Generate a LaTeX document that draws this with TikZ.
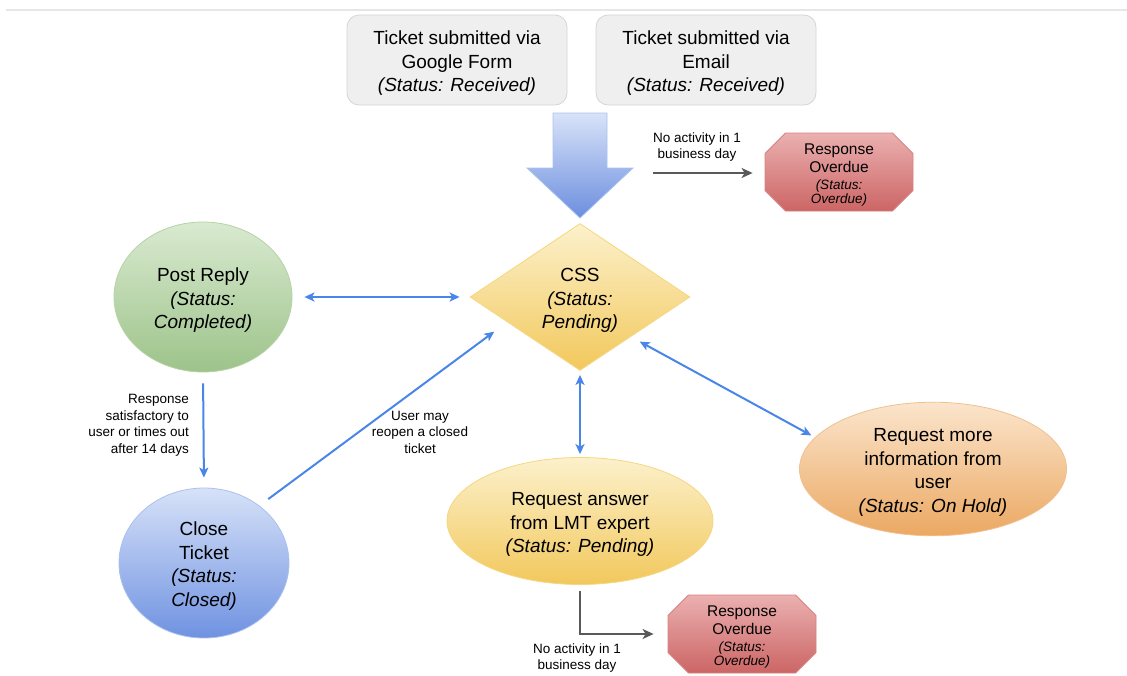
\documentclass[tikz,border=0pt]{standalone}
\usepackage{fontspec}
\setmainfont{Liberation Sans}
\usetikzlibrary{shapes.geometric,shapes.misc,arrows.meta}

\definecolor{boxfill}{HTML}{EFEFEF}
\definecolor{boxedge}{HTML}{D5D5D5}
\definecolor{arrowtop}{HTML}{D8E3F8}
\definecolor{arrowbot}{HTML}{6C8EDF}
\definecolor{arrowedge}{HTML}{A9C2F0}
\definecolor{redtop}{HTML}{EBB0B0}
\definecolor{redbot}{HTML}{CC6565}
\definecolor{rededge}{HTML}{D98080}
\definecolor{greentop}{HTML}{D9EAD0}
\definecolor{greenbot}{HTML}{9DC38A}
\definecolor{greenedge}{HTML}{B5D3A5}
\definecolor{yeltop}{HTML}{FCF1CC}
\definecolor{yelbot}{HTML}{F2C85C}
\definecolor{yeledge}{HTML}{F5D77F}
\definecolor{bluetop}{HTML}{D7E2F8}
\definecolor{bluebot}{HTML}{6F92E1}
\definecolor{blueedge}{HTML}{A9C1EE}
\definecolor{orgtop}{HTML}{FBE5CC}
\definecolor{orgbot}{HTML}{EBA862}
\definecolor{orgedge}{HTML}{F0C090}
\definecolor{connblue}{HTML}{4A86E8}
\definecolor{conngray}{HTML}{595959}
\definecolor{rulegray}{HTML}{E6E6E6}

% italic status lines; the strut lowers a text block a little inside its shape
\newcommand{\stline}[1]{{\itshape #1}}
\newcommand{\smallst}[1]{{\fontsize{13.5}{16}\selectfont\itshape #1}}
\newcommand{\lowerbig}{\rule{0pt}{20pt}}
\newcommand{\lowersmall}{\rule{0pt}{16.5pt}}

\begin{document}
\begin{tikzpicture}[x=1pt,y=-1pt,
  txt/.style={align=center, inner sep=0pt, text=black,
    font=\fontsize{19}{23.5}\selectfont},
  lbl/.style={align=center, inner sep=0pt, text=black,
    font=\fontsize{13.5}{16.5}\selectfont},
  srcbox/.style={txt, rectangle, rounded corners=12pt, fill=boxfill,
    draw=boxedge, line width=0.8pt, minimum width=220pt, minimum height=90pt},
  overdue/.style={chamfered rectangle, chamfered rectangle xsep=17pt,
    align=center, inner sep=0pt, text=black,
    font=\fontsize{15.5}{18.5}\selectfont,
    top color=redtop, bottom color=redbot, draw=rededge, line width=0.8pt,
    minimum width=148pt, minimum height=78pt},
  blob/.style={txt, ellipse, line width=0.8pt},
  bluelink/.style={draw=connblue, line width=2pt,
    -{Stealth[length=10pt,width=9pt,inset=2.5pt]}},
  bluetwo/.style={bluelink,
    {Stealth[length=10pt,width=9pt,inset=2.5pt]}-{Stealth[length=10pt,width=9pt,inset=2.5pt]}},
  graylink/.style={draw=conngray, line width=2.5pt,
    -{Stealth[length=11pt,width=10pt,inset=3pt]}},
]
\useasboundingbox (0,0) rectangle (1127,675);

% thin rule along the top
\draw[rulegray, line width=1.2pt] (6,10) -- (1127,10);

% ticket sources
\node[srcbox] (gform) at (457,60)
  {\lowerbig Ticket submitted via\\Google Form\\\stline{(Status: Received)}};
\node[srcbox] (email) at (706,60)
  {\lowerbig Ticket submitted via\\Email\\\stline{(Status: Received)}};

% wide intake arrow
\shadedraw[top color=arrowtop, bottom color=arrowbot, draw=arrowedge, line width=0.8pt]
  (553,113) -- (607,113) -- (607,168) -- (633,168) -- (580,218)
  -- (527,168) -- (553,168) -- cycle;

% states
\node[txt, diamond, minimum width=220pt, minimum height=144pt,
      top color=yeltop, bottom color=yelbot, draw=yeledge, line width=0.8pt]
  (css) at (580,297) {\lowerbig CSS\\\stline{(Status:}\\\stline{Pending)}};

\node[blob, minimum width=178pt, minimum height=150pt,
      top color=greentop, bottom color=greenbot, draw=greenedge]
  (post) at (203,297) {\lowerbig Post Reply\\\stline{(Status:}\\\stline{Completed)}};

\node[blob, minimum width=170pt, minimum height=150pt,
      top color=bluetop, bottom color=bluebot, draw=blueedge]
  (close) at (204,563) {\lowerbig Close\\Ticket\\\stline{(Status:}\\\stline{Closed)}};

\node[blob, minimum width=266pt, minimum height=127pt,
      top color=yeltop, bottom color=yelbot, draw=yeledge]
  (lmt) at (580,521) {\lowerbig Request answer\\from LMT expert\\\stline{(Status: Pending)}};

\node[blob, minimum width=267pt, minimum height=130pt,
      top color=orgtop, bottom color=orgbot, draw=orgedge]
  (info) at (933,469) {\lowerbig Request more\\information from\\user\\\stline{(Status: On Hold)}};

\node[overdue] (od1) at (839,172)
  {\lowersmall Response\\Overdue\\[-2pt]\smallst{(Status:}\\[-4.5pt]\smallst{Overdue)}};
\node[overdue] (od2) at (742,634)
  {\lowersmall Response\\Overdue\\[-2pt]\smallst{(Status:}\\[-4.5pt]\smallst{Overdue)}};

% connectors
\draw[bluetwo, shorten <=12pt, shorten >=10pt] (post.east) -- (css.west);
\draw[bluelink, shorten <=11pt, shorten >=10pt] (post.south) -- (close.north);
\draw[bluelink, shorten <=11pt, shorten >=16pt] (close.46) -- (css.199);
\draw[bluetwo, shorten <=4pt, shorten >=3pt] (css.south) -- (lmt.north);
\draw[bluetwo, shorten <=10pt, shorten >=4pt] (css.322) -- (info.165);

\coordinate (idle) at (653,173);
\draw[graylink, shorten >=12pt] (idle) -- (od1.west |- idle);
\draw[graylink, shorten <=6pt, shorten >=14pt] (lmt.south) |- (od2.west);

% connector labels
\node[lbl] (lidle) at (697,147) {No activity in 1\\business day};
\node[lbl] (llmt) at (577,658) {No activity in 1\\business day};
\node[lbl, align=right, anchor=east] (lclose) at (189,425)
  {Response\\satisfactory to\\user or times out\\after 14 days};
\node[lbl] (lreopen) at (420,432) {User may\\reopen a closed\\ticket};
\end{tikzpicture}
\end{document}
